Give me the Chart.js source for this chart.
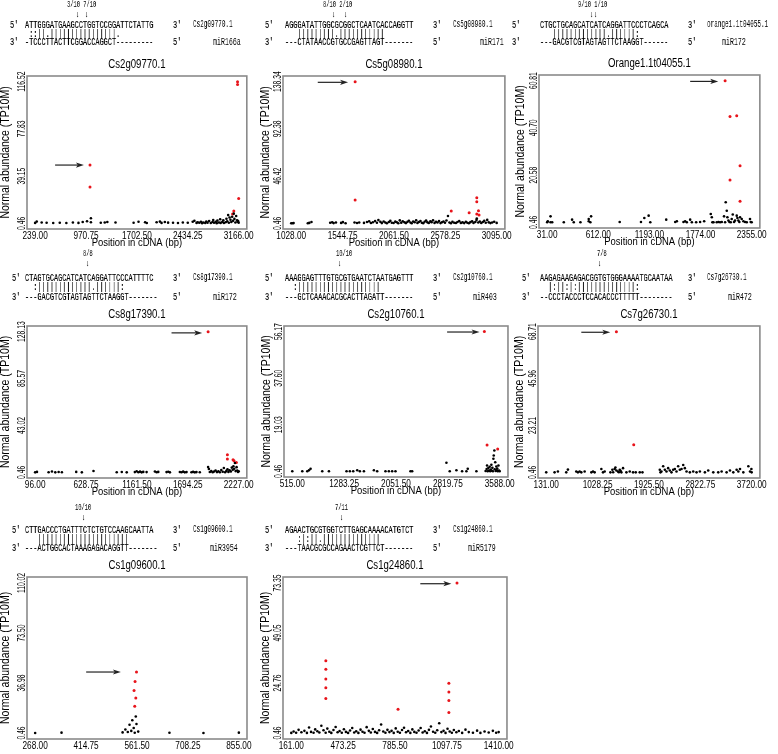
<!DOCTYPE html>
<html><head><meta charset="utf-8">
<script src="https://cdn.jsdelivr.net/npm/chart.js@4.4.0/dist/chart.umd.min.js"></script>
<style>
html,body{margin:0;padding:0;background:#fff;}
body{width:778px;height:754px;overflow:hidden;position:relative;}
.c{position:absolute;}
.t{position:absolute;font-family:'Liberation Mono','DejaVu Sans Mono',monospace;white-space:pre;transform-origin:0 50%;transform:scaleX(0.6);will-change:transform;color:#000;}
.b{-webkit-text-stroke:0.2px #000;}
</style></head><body>
<script>
// ---------- DATA ----------
const genes = ["Cs2g09770.1","Cs5g08980.1","Orange1.1t04055.1","Cs8g17390.1","Cs2g10760.1","Cs7g26730.1","Cs1g09600.1","Cs1g24860.1"];
const targetNames = ["Cs2g09770.1","Cs5g08980.1","orange1.1t04055.1","Cs8g17390.1","Cs2g10760.1","Cs7g26730.1","Cs1g09600.1","Cs1g24860.1"];
const mirnaNames = ["miR166a","miR171","miR172","miR172","miR403","miR472","miR3954","miR5179"];
const cleavageMarks = ["3/10 7/10","8/10 2/10","9/10 1/10","8/8","10/10","7/8","10/10","7/11"];
const targetSeqs = [
 "ATTGGGATGAAGCCTGGTCCGGATTCTATTG",
 "AGGGATATTGGCGCGGCTCAATCACCAGGTT",
 "CTGCTGCAGCATCATCAGGATTCCCTCAGCA",
 "CTAGTGCAGCATCATCAGGATTCCCATTTTC",
 "AAAGGAGTTTGTGCGTGAATCTAATGAGTTT",
 "AAGAGAAGAGACGGTGTGGGAAAATGCAATAA",
 "CTTGACCCTGATTTCTCTGTCCAAGCAATTA",
 "AGAACTGCGTGGTCTTGAGCAAAACATGTCT"];
const matchLines = [
 " ::||.||||||||||||||||.",
 "   |||||||||.|||||||||||",
 "   |||||||||||||.||||||:",
 "  :|||||||||||||.||||||:",
 "  :||||||||||||||||||||",
 "  |:||:|:||||||||||||||:",
 "   ||||||||||||||||||||||",
 "   :|:||.||||||||||||||"];
const mirnaSeqs = [
 "-TCCCTTACTTCGGACCAGGCT---------",
 "---CTATAACCGTGCCGAGTTAGT-------",
 "---GACGTCGTAGTAGTTCTAAGGT------",
 "---GACGTCGTAGTAGTTCTAAGGT-------",
 "---GCTCAAACACGCACTTAGATT-------",
 "--CCCTACCCTCCACACCCTTTTT--------",
 "---ACTGGCACTAAAGAGACAGGTT-------",
 "---TAACGCGCCAGAACTCGTTCT-------"];

const xRanges = [[239,3166],[1028,3095],[31,2355],[96,2227],[515,3588],[131,3720],[268,855],[161,1410]];
const yRanges = [[0.46,116.52],[0.46,138.34],[0.46,60.814],[0.46,128.13],[0.46,56.17],[0.46,68.71],[0.46,110.02],[0.46,73.35]];

// arrows in data units: tail x, head x, y
const arrowTailX = [526,1295,1656,1524,2809,744,415,938];
const arrowHeadX = [940,1600,1975,1845,3290,1250,515,1125];
const arrowY = [48.2,137.7,60.5,127,56,68.4,45,73];

const p1Black = [[239,0.8],[262,1.9],[333,1.2],[404,0.9],[499,0.7],[593,0.9],[688,0.7],[782,1.1],[862,0.8],[923,1.6],[985,2.2],[1041,4.6],[1041,1.4],[1183,0.9],[1240,1.2],[1277,1.6],[1395,1.1],[1655,0.9],[1726,1.8],[1820,1.3],[1844,0.7],[1986,1.4],[2033,1.9],[2057,0.8],[2104,1.5],[2151,1.0],[2222,0.9],[2293,0.7],[2363,1.2],[2434,0.9],[2505,1.8],[2529,2.6],[2560,0.8],[2576,1.4],[2600,0.9],[2623,1.7],[2640,0.6],[2656,1.2],[2685,0.8],[2700,1.9],[2718,1.0],[2741,2.4],[2765,0.7],[2789,1.5],[2800,3.1],[2812,0.9],[2836,1.8],[2850,0.6],[2860,2.7],[2883,1.1],[2900,3.8],[2907,0.8],[2930,1.6],[2945,2.9],[2954,0.7],[2978,1.3],[2990,4.2],[3001,2.1],[3015,7.2],[3025,0.9],[3035,5.3],[3048,3.4],[3060,1.6],[3072,5.8],[3085,2.5],[3096,8.4],[3105,4.1],[3119,1.2],[3130,6.5],[3143,3.0],[3150,1.8],[3158,2.4],[3166,1.0]];
const p1Red = [[1028,48.2],[1028,30.3],[3150,116.52],[3150,114.3],[3166,20.8],[3096,10.6],[3078,8.1]];

const p2Black = [[1028,0.6],[1040,0.5],[1052,0.7],[1195,0.6],[1210,0.9],[1232,1.8],[1420,1.0],[1440,1.4],[1455,0.7],[1478,1.2],[1530,0.9],[1548,1.6],[1575,0.6],[1665,1.2],[1690,0.8],[1712,1.3],[1760,0.9],[1790,1.7],[1812,2.4],[1830,0.8],[1850,1.5],[1872,2.8],[1890,1.0],[1905,3.6],[1925,1.9],[1940,0.7],[1958,2.3],[1975,1.2],[1990,0.6],[2010,1.8],[2025,2.9],[2040,1.1],[2058,0.8],[2075,2.1],[2090,1.5],[2105,0.6],[2120,3.3],[2135,1.0],[2150,2.5],[2168,1.4],[2182,0.7],[2198,1.9],[2212,3.0],[2228,1.2],[2240,0.6],[2255,2.2],[2270,1.5],[2285,3.4],[2298,0.9],[2312,1.8],[2328,2.7],[2342,1.1],[2356,0.6],[2370,2.0],[2385,3.1],[2398,1.4],[2412,0.8],[2428,2.4],[2440,1.6],[2455,3.5],[2470,0.9],[2485,1.9],[2500,1.2],[2515,2.8],[2530,0.7],[2545,1.5],[2560,2.3],[2575,1.0],[2590,3.2],[2605,7.6],[2620,1.3],[2635,0.6],[2650,2.0],[2668,1.1],[2685,0.8],[2700,1.7],[2718,2.6],[2735,0.9],[2752,1.4],[2768,0.7],[2785,1.9],[2800,1.1],[2815,0.6],[2830,1.6],[2848,2.4],[2862,0.9],[2880,1.8],[2892,3.6],[2895,5.2],[2910,1.2],[2925,2.3],[2940,0.8],[2955,1.7],[2970,2.9],[2985,1.0],[3000,3.8],[3015,1.4],[3032,0.7],[3050,1.2],[3070,2.0],[3095,0.9]];
const p2Red = [[1671,138.34],[1671,23.2],[2638,12.5],[2818,10.8],[2895,25.4],[2895,21.5],[2895,9.5],[2912,12.8],[2918,8.6]];

const p3Black = [[31,0.5],[38,0.9],[69,3.0],[69,0.5],[88,0.5],[220,0.5],[314,1.6],[333,0.5],[409,0.5],[503,1.9],[503,0.9],[522,0.5],[530,3.0],[855,0.6],[1097,0.6],[1135,2.3],[1184,3.3],[1203,0.5],[1384,1.6],[1486,0.6],[1505,0.9],[1580,0.6],[1599,0.9],[1618,0.5],[1656,1.6],[1675,0.5],[1724,0.5],[1769,0.6],[1815,0.9],[1890,4.0],[1902,2.6],[1909,0.5],[1921,0.5],[1958,0.5],[1977,0.6],[1996,0.5],[2015,0.6],[2041,3.0],[2053,0.5],[2060,9.0],[2072,5.4],[2079,2.6],[2091,1.2],[2102,0.6],[2117,0.5],[2128,1.9],[2140,3.8],[2155,0.6],[2166,1.2],[2185,3.3],[2193,2.3],[2204,1.2],[2215,0.6],[2223,2.6],[2242,1.9],[2261,0.9],[2280,0.6],[2299,0.5],[2336,1.9],[2344,0.6],[2355,0.5]];
const p3Red = [[2053,60.81],[2109,45.5],[2185,45.9],[2223,24.6],[2109,18.5],[2223,9.4]];

const p4Black = [[96,0.5],[115,0.9],[237,0.6],[272,1.3],[307,0.5],[342,0.8],[376,0.6],[526,0.9],[585,0.5],[707,1.7],[950,0.6],[1003,0.8],[1055,0.5],[1140,0.7],[1159,1.5],[1177,0.6],[1194,1.1],[1211,0.5],[1228,0.9],[1263,0.7],[1350,1.2],[1368,0.6],[1385,0.9],[1472,0.7],[1490,1.0],[1507,0.5],[1611,0.8],[1628,0.6],[1646,1.1],[1663,0.5],[1681,0.7],[1733,0.6],[1750,0.9],[1768,0.5],[1785,0.7],[1820,0.6],[1907,5.3],[1915,3.5],[1925,0.8],[1940,1.6],[1955,0.6],[1970,1.2],[1985,2.2],[2000,0.7],[2015,1.5],[2030,0.6],[2045,2.6],[2060,1.0],[2072,4.4],[2085,0.6],[2098,1.8],[2110,3.2],[2120,0.9],[2132,2.4],[2145,1.2],[2155,4.8],[2165,2.9],[2172,6.0],[2180,3.7],[2188,8.9],[2195,1.6],[2205,5.2],[2212,2.2],[2220,0.8],[2227,1.4]];
const p4Red = [[1907,128.13],[2109,16.5],[2109,12.6],[2168,11.9],[2178,11.0],[2203,9.5]];

const p5Black = [[515,0.5],[663,0.5],[737,0.5],[762,0.9],[786,1.5],[959,0.5],[1058,0.5],[1319,0.5],[1368,0.5],[1418,0.5],[1477,0.9],[1516,0.5],[1576,0.5],[1724,0.9],[1773,0.5],[1896,0.5],[1946,0.5],[1995,0.5],[2044,0.5],[2266,0.5],[2291,0.5],[2799,3.9],[2848,0.5],[2947,0.9],[3031,0.5],[3095,0.5],[3115,1.5],[3243,0.5],[3380,0.6],[3395,1.4],[3401,2.8],[3410,0.5],[3420,1.8],[3430,0.8],[3440,2.3],[3448,0.5],[3456,1.2],[3465,3.1],[3472,0.7],[3480,1.9],[3488,0.5],[3495,5.5],[3500,6.8],[3509,8.8],[3515,1.3],[3522,4.1],[3530,0.6],[3538,2.4],[3545,0.9],[3552,1.6],[3560,0.5],[3570,2.8],[3578,0.8],[3588,0.5]];
const p5Red = [[3361,56.17],[3401,11.0],[3559,9.4]];

const p6Black = [[131,0.46],[277,0.46],[335,0.9],[481,0.46],[510,1.8],[656,0.9],[685,0.46],[715,0.9],[744,0.46],[802,0.9],[919,0.46],[948,0.9],[977,0.46],[1094,2.1],[1123,0.46],[1152,0.9],[1252,0.46],[1287,1.7],[1300,0.5],[1327,2.1],[1340,2.8],[1357,1.4],[1386,0.9],[1400,0.5],[1415,1.7],[1430,1.2],[1444,0.46],[1473,2.5],[1532,0.46],[1590,0.9],[1648,0.46],[1695,0.46],[1765,0.46],[1812,0.46],[2115,1.7],[2127,0.46],[2144,0.9],[2174,3.4],[2203,1.7],[2232,0.9],[2261,2.5],[2290,1.4],[2319,0.46],[2349,1.7],[2378,2.1],[2407,0.9],[2436,3.4],[2465,1.7],[2495,2.1],[2524,4.0],[2553,2.5],[2582,0.9],[2640,0.46],[2699,0.9],[2757,0.46],[2815,0.9],[2903,0.46],[2961,1.4],[3049,0.46],[3136,0.46],[3195,0.9],[3282,0.46],[3341,1.4],[3399,0.46],[3457,1.7],[3487,0.9],[3516,2.1],[3574,0.46],[3662,3.4],[3691,0.9],[3720,0.46],[3715,2.1]];
const p6Red = [[1357,68.71],[1660,13.8]];

const p7Black = [[268,0.5],[344,0.7],[520,0.9],[528,3.0],[535,1.2],[540,6.5],[545,2.0],[548,9.8],[552,4.1],[555,0.6],[558,12.5],[560,7.0],[565,1.5],[655,0.6],[753,0.5],[855,0.7]];
const p7Red = [[560,45.0],[556,38.0],[553,31.5],[558,26.0],[555,20.0]];

const p8Black = [[161,0.5],[175,1.2],[190,0.6],[205,2.0],[222,0.8],[240,1.5],[255,0.5],[268,3.1],[280,1.0],[295,0.6],[305,2.2],[318,1.3],[330,0.7],[342,4.0],[355,1.8],[368,0.6],[378,2.6],[390,1.1],[402,0.5],[415,1.9],[428,3.4],[440,0.8],[452,1.4],[465,0.6],[478,2.3],[490,1.0],[503,0.5],[515,1.7],[528,2.9],[540,0.7],[552,1.3],[565,0.5],[578,2.1],[590,1.1],[602,0.6],[615,3.3],[628,1.5],[640,0.7],[652,2.4],[665,1.0],[678,0.5],[690,1.8],[702,4.6],[715,1.2],[728,0.6],[740,2.0],[752,0.9],[765,1.5],[778,0.5],[790,2.7],[802,1.1],[815,0.6],[828,1.9],[840,3.0],[852,0.8],[865,1.4],[878,0.5],[890,2.2],[902,1.0],[915,0.6],[928,1.7],[940,2.9],[952,0.7],[965,1.3],[978,0.5],[990,2.0],[1002,3.6],[1015,1.1],[1028,0.6],[1040,1.8],[1052,5.2],[1065,0.9],[1078,1.5],[1090,0.5],[1102,2.5],[1115,1.2],[1128,0.6],[1140,1.9],[1155,0.8],[1170,1.4],[1190,0.5],[1210,2.1],[1230,0.9],[1255,0.6],[1280,1.6],[1300,0.5],[1325,1.2],[1350,0.7],[1375,1.5],[1395,0.6],[1410,0.9]];
const p8Red = [[1159,73.35],[369,35.6],[369,31.4],[369,26.7],[369,22.5],[369,17.2],[804,12.0],[1110,24.6],[1110,20.4],[1110,16.2],[1110,10.4]];

const blackSets = [p1Black,p2Black,p3Black,p4Black,p5Black,p6Black,p7Black,p8Black];
const redSets = [p1Red,p2Red,p3Red,p4Red,p5Red,p6Red,p7Red,p8Red];

// ---------- LAYOUT ----------
const plotRects = [[27,76,247,229],[283,76,505,229],[539,75,760,228],[27,326,247,478],[284,326,508,477],[538,326,760,478],[27,577,247,739],[283,577,507,739]];
const yTitleGap = [21,17,18,21,17,18,21,17];
const showXTitle = [true,true,true,true,true,true,false,false];
const blockCols = [ // fivePrimeX, seqX, threePrimeX, nameX, mirNameX, markX, arrowXs
 [10,25,173,193,213,67,[78,87]],
 [265,285,433,453,480,323,[334,346]],
 [512,540,688,707,722,578,[592,596]],
 [12,25,173,193,213,83,[88]],
 [265,285,433,453,473,336,[340]],
 [522,540,688,707,728,597,[600]],
 [12,25,173,193,210,75,[84]],
 [265,285,433,453,468,335,[342]]];
const rowY = [{mark:5,arrow:15,seq:25,match:34,mir:42},{mark:254,arrow:264,seq:278,match:287,mir:297},{mark:508,arrow:518,seq:530,match:539,mir:548}];

const FAM = "'Liberation Sans',Arial,sans-serif";
// horizontal condensing of chart text by font size (the reference uses a narrow face)
const CONDENSE = {'12':0.8,'12.2':0.86,'11.4':0.83,'11':0.75,'10.9':0.62};
const _fillText = CanvasRenderingContext2D.prototype.fillText;
CanvasRenderingContext2D.prototype.fillText = function(t,x,y,mw){
  const m = /([\d.]+)px/.exec(this.font);
  const k = (m && this.canvas && this.canvas.dataset && this.canvas.dataset.condense) ? CONDENSE[String(parseFloat(m[1]))] : undefined;
  if(!k) return mw===undefined?_fillText.call(this,t,x,y):_fillText.call(this,t,x,y,mw);
  this.save();this.translate(x,y);this.scale(k,1);_fillText.call(this,t,0,0);this.restore();
};

function addText(str,x,yc,size,bold){
  const d=document.createElement('div');d.className=bold?'t b':'t';d.textContent=str;
  d.style.left=x+'px';d.style.top=(yc-4)+'px';d.style.fontSize=size+'px';d.style.lineHeight='8px';d.style.height='8px';
  document.body.appendChild(d);
}

const decor = {id:'decor',
  beforeDatasetsDraw(chart,args,o){
    const {ctx,chartArea:a,scales:{x,y}}=chart;
    ctx.save();
    ctx.strokeStyle='#8a8a8a';ctx.lineWidth=1.6;
    ctx.strokeRect(a.left,a.top,a.right-a.left,a.bottom-a.top);
    ctx.fillStyle='#000';ctx.font='12px '+FAM;ctx.textAlign='center';ctx.textBaseline='middle';
    ctx.fillText(o.title,(a.left+a.right)/2,a.top-11);
    const xa=x.getPixelForValue(o.arrow[0]),xb=x.getPixelForValue(o.arrow[1]),ya=y.getPixelForValue(o.arrow[2]);
    ctx.strokeStyle='#222';ctx.fillStyle='#222';ctx.lineWidth=1.2;
    ctx.beginPath();ctx.moveTo(xa,ya);ctx.lineTo(xb-5,ya);ctx.stroke();
    ctx.beginPath();ctx.moveTo(xb,ya);ctx.lineTo(xb-8,ya-2.6);ctx.lineTo(xb-6,ya);ctx.lineTo(xb-8,ya+2.6);ctx.closePath();ctx.fill();
    ctx.restore();
  }};

const measure=document.createElement('canvas').getContext('2d');

genes.forEach((g,i)=>{
  const [L,T,R,B]=plotRects[i];
  const padL=28,padT=26,padR=12,axisH=24;
  const W=(R-L)+padL+padR,H=(B-T)+padT+axisH;
  const div=document.createElement('div');div.className='c';
  div.style.left=(L-padL)+'px';div.style.top=(T-padT)+'px';div.style.width=W+'px';div.style.height=H+'px';
  const cv=document.createElement('canvas');cv.width=W;cv.height=H;cv.style.width=W+'px';cv.style.height=H+'px';
  cv.dataset.condense='1';
  div.appendChild(cv);document.body.appendChild(div);
  const [x0,x1]=xRanges[i],[y0,y1]=yRanges[i];
  const xt=[0,1,2,3,4].map(k=>x0+k*(x1-x0)/4);
  const yt=[0,1,2,3].map(k=>y0+k*(y1-y0)/3);
  measure.font='10.9px '+FAM;
  const widest=Math.max(...yt.map(v=>measure.measureText(v.toFixed(2)).width));
  const yPad=5.5-widest/2;
  new Chart(cv,{
    type:'scatter',
    data:{datasets:[
      {data:blackSets[i].map(([x,y])=>({x,y})),backgroundColor:'#000',borderColor:'#000',pointRadius:1.3,pointBorderWidth:0},
      {data:redSets[i].map(([x,y])=>({x,y})),backgroundColor:'#e8141b',borderColor:'#e8141b',pointRadius:1.5,pointBorderWidth:0}]},
    options:{
      responsive:false,animation:false,events:[],devicePixelRatio:1,
      layout:{padding:{left:0,top:padT,right:padR,bottom:0}},
      plugins:{legend:{display:false},tooltip:{enabled:false},
        decor:{title:g,arrow:[arrowTailX[i],arrowHeadX[i],arrowY[i]]}},
      scales:{
        x:{type:'linear',position:'bottom',min:x0-0.04*(x1-x0),max:x1+0.04*(x1-x0),
          afterBuildTicks:s=>{s.ticks=xt.map(v=>({value:v}));},
          afterFit:s=>{s.height=axisH;},
          grid:{display:false,drawTicks:false},border:{display:false},
          ticks:{autoSkip:false,maxRotation:0,minRotation:0,padding:0,color:'#000',font:{family:FAM,size:11},callback:v=>Number(v).toFixed(2)},
          title:{display:showXTitle[i],text:'Position in cDNA (bp)',color:'#000',font:{family:FAM,size:11.4},padding:{top:0,bottom:3}}},
        y:{type:'linear',position:'left',min:y0-0.04*(y1-y0),max:y1+0.04*(y1-y0),
          afterBuildTicks:s=>{s.ticks=yt.map(v=>({value:v}));},
          afterFit:s=>{s.width=padL;},
          grid:{display:false,drawTicks:false},border:{display:false},
          ticks:{autoSkip:false,minRotation:90,maxRotation:90,crossAlign:'center',padding:yPad,color:'#000',font:{family:FAM,size:10.9},callback:v=>Number(v).toFixed(2)},
          title:{display:true,text:'Normal abundance (TP10M)',color:'#000',font:{family:FAM,size:12.2},padding:{top:padL-yTitleGap[i]-7.3,bottom:0}}}
      }
    },
    plugins:[decor]
  });
});

// alignment blocks
genes.forEach((g,i)=>{
  const [fx,sx,tx,nx,mx,markX,arrowXs]=blockCols[i];
  const r=rowY[Math.floor(i/3)];
  addText(cleavageMarks[i],markX,r.mark,9,false);
  arrowXs.forEach(ax=>addText('\u2193',ax-1.6,r.arrow,9,false));
  addText("5'",fx,r.seq,11.5,true);addText(targetSeqs[i],sx,r.seq,11.5,true);addText("3'",tx,r.seq,11.5,true);addText(targetNames[i],nx,r.seq,10,false);
  addText(matchLines[i],sx,r.match,11.5,true);
  addText("3'",fx,r.mir,11.5,true);addText(mirnaSeqs[i],sx,r.mir,11.5,true);addText("5'",tx,r.mir,11.5,true);addText(mirnaNames[i],mx,r.mir,11,false);
});
</script>
</body></html>
